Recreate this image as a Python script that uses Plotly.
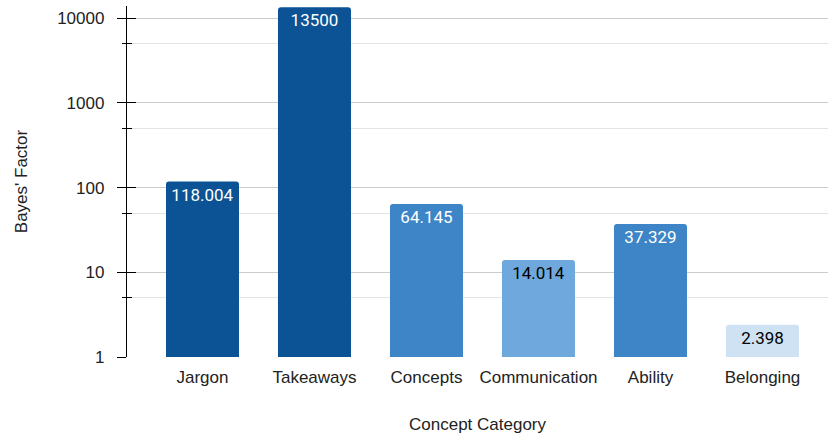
import plotly.graph_objects as go

categories = ["Jargon", "Takeaways", "Concepts", "Communication", "Ability", "Belonging"]
bayes_factors = [118.004, 13500, 64.145, 14.014, 37.329, 2.398]
value_labels = ["118.004", "13500", "64.145", "14.014", "37.329", "2.398"]
bar_colors = ["#0b5394", "#0b5394", "#3d85c6", "#6fa8dc", "#3d85c6", "#cfe2f3"]
label_colors = ["#ffffff", "#ffffff", "#ffffff", "#000000", "#ffffff", "#000000"]
major_ticks = [1, 10, 100, 1000, 10000]
major_tick_text = ["1", "10", "100", "1000", "10000"]
minor_ticks = [5, 50, 500, 5000]

fig = go.Figure()
fig.add_trace(go.Bar(
    x=categories,
    y=bayes_factors,
    text=value_labels,
    textposition="inside",
    insidetextanchor="end",
    textangle=0,
    textfont=dict(family="Roboto", size=17, color=label_colors),
    marker=dict(color=bar_colors, line=dict(width=0)),
    cliponaxis=False,
    hoverinfo="skip",
))
# invisible companion trace to carry the inside half of the crossing ticks
fig.add_trace(go.Scatter(x=categories, y=bayes_factors, yaxis="y2", mode="none",
                         showlegend=False, hoverinfo="skip"))

fig.update_layout(
    width=828, height=434,
    margin=dict(l=127, r=0, t=6, b=77, autoexpand=False),
    paper_bgcolor="white", plot_bgcolor="white",
    showlegend=False,
    bargap=0.348,
    barcornerradius=3,
    font=dict(family="Liberation Sans, Arial", size=17, color="#222222"),
    xaxis=dict(
        range=[-0.674, 5.585], automargin=False,
        showgrid=False, zeroline=False, showline=False,
        ticks="", ticklabelstandoff=8, tickfont=dict(size=17, color="#222222"),
        title=dict(text="Concept Category", font=dict(size=17, color="#222222"), standoff=32),
    ),
    yaxis=dict(
        type="log", automargin=False,
        range=[0, 4.145],
        tickvals=major_ticks, ticktext=major_tick_text,
        ticks="outside", ticklen=9, tickwidth=1.3, tickcolor="#000000",
        ticklabelstandoff=9,
        showline=True, linecolor="#000000", linewidth=1.3,
        showgrid=True, gridcolor="#cccccc", gridwidth=1,
        zeroline=False,
        minor=dict(tickvals=minor_ticks, ticks="outside", ticklen=4, tickwidth=1.3,
                   tickcolor="#000000", showgrid=True, gridcolor="#e3e3e3", gridwidth=1),
        tickfont=dict(size=17, color="#222222"),
        title=dict(text="Bayes' Factor", font=dict(size=17, color="#222222"), standoff=25),
    ),
    yaxis2=dict(
        type="log", overlaying="y", side="left", matches="y", automargin=False,
        range=[0, 4.145],
        tickvals=major_ticks, showticklabels=False,
        ticks="inside", ticklen=9, tickwidth=1.3, tickcolor="#000000",
        showgrid=False, zeroline=False, showline=False,
        minor=dict(tickvals=minor_ticks, ticks="inside", ticklen=5, tickwidth=1.3,
                   tickcolor="#000000", showgrid=False),
    ),
)

fig.write_html("out.html", config={"displayModeBar": False},
               post_script="document.body.style.margin='0';")
